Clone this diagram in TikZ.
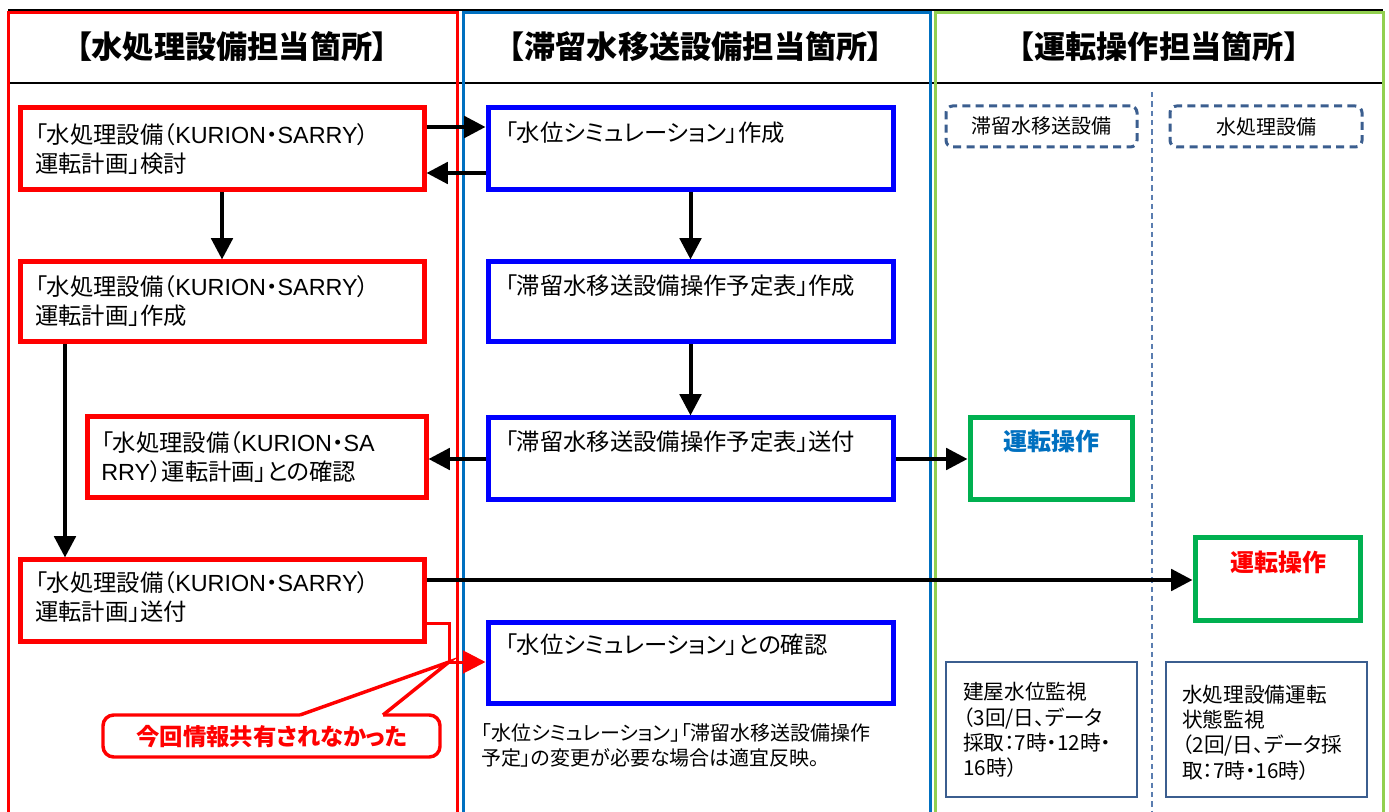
\documentclass[tikz,border=0pt]{standalone}
\usepackage{fontspec}
\setmainfont{Noto Sans CJK JP}[RawFeature=+palt]
\newfontfamily\lat{Liberation Sans}
\usetikzlibrary{arrows.meta,fit}
\definecolor{cred}{HTML}{FF0000}
\definecolor{cblue}{HTML}{0000FF}
\definecolor{colblue}{HTML}{0070C0}
\definecolor{colgreen}{HTML}{92D050}
\definecolor{cgreen}{HTML}{00B050}
\definecolor{cgray}{HTML}{3B5E8F}
\definecolor{cdash}{HTML}{5A7DB0}
\begin{document}
\begin{tikzpicture}[x=0.75pt,y=-0.75pt,
  col/.style={line width=2.25pt},
  redbox/.style={draw=cred,line width=3.75pt,inner sep=0pt},
  bluebox/.style={draw=cblue,line width=3.75pt,inner sep=0pt},
  greenbox/.style={draw=cgreen,line width=3.75pt,inner sep=0pt},
  dashbox/.style={draw=cgray,line width=2.25pt,dash pattern=on 6pt off 4pt,rounded corners=5pt,inner sep=0pt},
  monbox/.style={draw=cgray,line width=1.9pt,inner sep=0pt},
  txt/.style={inner sep=0pt,align=left,anchor=west,font=\fontsize{17.5pt}{21.75pt}\selectfont},
  montxt/.style={inner sep=0pt,align=left,anchor=west,font=\fontsize{15.5pt}{19pt}\selectfont},
  hdr/.style={inner sep=0pt,font=\fontsize{23.4pt}{27pt}\selectfont\bfseries},
  optxt/.style={inner sep=0pt,font=\fontsize{18pt}{22pt}\selectfont\bfseries},
  arr/.style={line width=3pt,-{Triangle[length=16pt,width=16pt]}},
]
\useasboundingbox (0,0) rectangle (1389,812);
\fill[white] (0,0) rectangle (1389,812);

% frame lines
\draw[line width=1.5pt] (8,10) -- (1383,10);
\draw[line width=1.5pt] (8,83) -- (1383,83);
\draw[col,draw=cred] (8,13) rectangle (457,820);
\draw[col,draw=colblue] (463,13) rectangle (930,820);
\draw[col,draw=colgreen] (935,13) rectangle (1383,820);
\draw[cdash,line width=0.8pt,dash pattern=on 4pt off 3pt] (1152,92) -- (1152,812);

% headers
\node[hdr] (h1) at (232,47) {【水処理設備担当箇所】};
\node[hdr] (h2) at (696,47) {【滞留水移送設備担当箇所】};
\node[hdr] (h3) at (1159,47) {【運転操作担当箇所】};

% red boxes
\node[redbox,fit={(20,108) (424,190)}] (rA) {};
\node[txt] (tA) at (35,149) {「水処理設備（{\lat KURION}・{\lat SARRY}）\\運転計画」検討};
\node[redbox,fit={(20,262) (424,342)}] (rB) {};
\node[txt] (tB) at (35,301) {「水処理設備（{\lat KURION}・{\lat SARRY}）\\運転計画」作成};
\node[redbox,fit={(87,417) (426,498)}] (rC) {};
\node[txt] (tC) at (101,457.5) {「水処理設備（{\lat KURION}・{\lat SA}\\{\lat RRY}）運転計画」との確認};
\node[redbox,fit={(20,560) (424,641)}] (rD) {};
\node[txt] (tD) at (35,597.5) {「水処理設備（{\lat KURION}・{\lat SARRY}）\\運転計画」送付};

% blue boxes
\node[bluebox,fit={(488,108) (893,190)}] (b1) {};
\node[txt] (tb1) at (505,133) {「水位シミュレーション」作成};
\node[bluebox,fit={(488,262) (893,342)}] (b2) {};
\node[txt] (tb2) at (505,286) {「滞留水移送設備操作予定表」作成};
\node[bluebox,fit={(488,418) (893,500)}] (b3) {};
\node[txt] (tb3) at (505,442) {「滞留水移送設備操作予定表」送付};
\node[bluebox,fit={(488,622) (893,703)}] (b4) {};
\node[txt] (tb4) at (505,645) {「水位シミュレーション」との確認};
\node[inner sep=0pt,align=left,anchor=west,font=\fontsize{15pt}{18.75pt}\selectfont] (note) at (481,745.5) {「水位シミュレーション」「滞留水移送設備操作\\予定」の変更が必要な場合は適宜反映。};

% green column
\node[dashbox,fit={(946,106) (1137,147)}] (d1) {};
\node[font=\fontsize{15pt}{18pt}\selectfont,inner sep=0pt] (td1) at (d1.center) {滞留水移送設備};
\node[dashbox,fit={(1170,106) (1362,147)}] (d2) {};
\node[font=\fontsize{15pt}{18pt}\selectfont,inner sep=0pt] (td2) at (d2.center) {水処理設備};

\node[greenbox,fit={(970,418) (1132,500)}] (g1) {};
\node[optxt,text=colblue] (tg1) at (1051,441) {運転操作};
\node[greenbox,fit={(1195,538) (1360,620)}] (g2) {};
\node[optxt,text=cred] (tg2) at (1278,562) {運転操作};

\node[monbox,fit={(946,662) (1137,797)}] (m1) {};
\node[montxt] (tm1) at (963,730) {建屋水位監視\\（3回/日、データ\\採取：7時・12時・\\16時）};
\node[monbox,fit={(1166,662) (1367,797)}] (m2) {};
\node[montxt] (tm2) at (1182,732.5) {水処理設備運転\\状態監視\\（2回/日、データ採\\取：7時・16時）};

% helper coordinates
\coordinate (y127) at (0,127);
\coordinate (y173) at (0,173);
\coordinate (y459) at (0,459);
\coordinate (y580) at (0,580);
\coordinate (y623) at (0,623);
\coordinate (y662) at (0,662);
\coordinate (x222) at (222,0);
\coordinate (x65) at (65,0);
\coordinate (k1) at (449,623);
\coordinate (k2) at (449,662);

% arrows
\draw[arr] (rA.east |- y127) -- (b1.west |- y127);
\draw[arr] (b1.west |- y173) -- (rA.east |- y173);
\draw[arr] (rA.south -| x222) -- (rB.north -| x222);
\draw[arr] (b1.south) -- (b2.north);
\draw[arr] (b2.south) -- (b3.north);
\draw[arr] (b3.west |- y459) -- (rC.east |- y459);
\draw[arr] (b3.east |- y459) -- (g1.west |- y459);
\draw[arr] (rB.south -| x65) -- (rD.north -| x65);
\draw[arr] (rD.east |- y580) -- (g2.west |- y580);
\draw[cred,line width=2.25pt,-{Triangle[length=17pt,width=17pt]}] (rD.east |- y623) -- (k1) -- (k2) -- (b4.west |- y662);

% callout
\node[font=\fontsize{17.5pt}{20pt}\selectfont\bfseries,text=cred,inner sep=0pt] (call) at (272,737) {今回情報共有されなかった};
\draw[cred,line width=2.6pt,rounded corners=8pt] (383,715) -- (440,715) -- (440,757) -- (103,757) -- (103,715) -- (300,715);
\draw[cred,line width=2.6pt,line join=miter] (300,715) -- (k2) -- (383,715);
\end{tikzpicture}
\end{document}
